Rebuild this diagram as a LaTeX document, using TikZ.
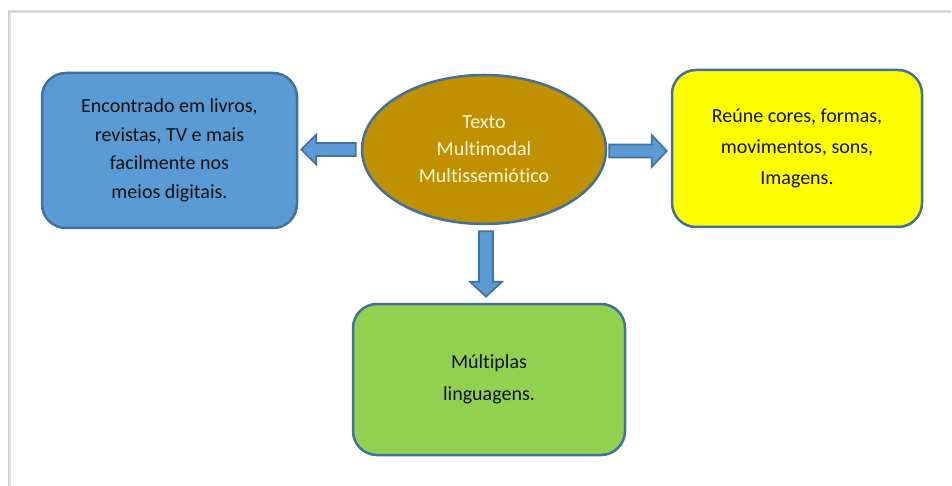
\documentclass[tikz,border=0pt]{standalone}
\usepackage{fontspec}
\setmainfont{Carlito}[Ligatures=NoCommon]
\usetikzlibrary{calc,shapes.geometric}
\definecolor{bordercol}{HTML}{41719C}
\definecolor{bluefill}{HTML}{5B9BD5}
\definecolor{goldfill}{HTML}{BF9000}
\definecolor{yellowfill}{HTML}{FFFF00}
\definecolor{greenfill}{HTML}{92D050}
\definecolor{txt}{HTML}{111111}
\definecolor{ltxt}{HTML}{FFF6DA}
\tikzset{
  boxnode/.style={draw=bordercol, line width=2.5pt, rounded corners=24pt, align=center, text=txt, inner sep=0pt},
  ellnode/.style={draw=bordercol, line width=2.5pt, ellipse, fill=goldfill, align=center, text=ltxt, inner sep=0pt},
  blockarrow/.style={draw=bordercol, fill=bluefill, line width=1.6pt, line join=miter},
}
\begin{document}
\begin{tikzpicture}[x=1pt,y=-1pt]
\useasboundingbox (0,0) rectangle (952,486);
\fill[white] (0,0) rectangle (952,486);
% page frame with soft shadow
\draw[gray!20, line width=3pt] (9,486) -- (9,12) -- (951,12);
\draw[gray!40, line width=0.8pt] (8,486) -- (8,11) -- (951,11);

\node[boxnode, fill=bluefill, minimum width=255pt, minimum height=155pt,
      font=\fontsize{20}{28.5}\selectfont] (lb) at (169.5,150.5)
  {Encontrado em livros,\\revistas, TV e mais\\facilmente nos\\meios digitais.};
\node[ellnode, minimum width=244pt, minimum height=149pt,
      font=\fontsize{20}{27}\selectfont] (ell) at (484,149.5)
  {Texto\\Multimodal\\Multissemiótico};
\node[boxnode, fill=yellowfill, minimum width=250pt, minimum height=157pt,
      font=\fontsize{20}{31}\selectfont] (rb) at (797,148.5)
  {Reúne cores, formas,\\movimentos, sons,\\Imagens.};
\node[boxnode, fill=greenfill, minimum width=272pt, minimum height=151pt,
      font=\fontsize{20}{32}\selectfont] (bb) at (489,379.5)
  {Múltiplas\\linguagens.};

% left arrow
\coordinate (la1) at ($(ell.west)+(-5,0)$);
\coordinate (la2) at ($(lb.east |- ell.west)+(3,0)$);
\draw[blockarrow] ($(la1)+(0,-6.5)$) -- ($(la2)+(15,-6.5)$) -- ($(la2)+(15,-15)$) -- (la2)
  -- ($(la2)+(15,15)$) -- ($(la2)+(15,6.5)$) -- ($(la1)+(0,6.5)$) -- cycle;
% right arrow
\coordinate (ra1) at ($(ell.east)+(2,1.5)$);
\coordinate (ra2) at ($(rb.west |- ra1)+(-4,0)$);
\draw[blockarrow] ($(ra1)+(0,-6.5)$) -- ($(ra2)+(-15,-6.5)$) -- ($(ra2)+(-15,-16)$) -- (ra2)
  -- ($(ra2)+(-15,16)$) -- ($(ra2)+(-15,6.5)$) -- ($(ra1)+(0,6.5)$) -- cycle;
% down arrow
\coordinate (da1) at ($(ell.south)+(2,6)$);
\coordinate (da2) at ($(da1 |- bb.north)+(0,-6)$);
\draw[blockarrow] ($(da1)+(-7,0)$) -- ($(da2)+(-7,-15)$) -- ($(da2)+(-16,-15)$) -- (da2)
  -- ($(da2)+(16,-15)$) -- ($(da2)+(7,-15)$) -- ($(da1)+(7,0)$) -- cycle;
\end{tikzpicture}
\end{document}
